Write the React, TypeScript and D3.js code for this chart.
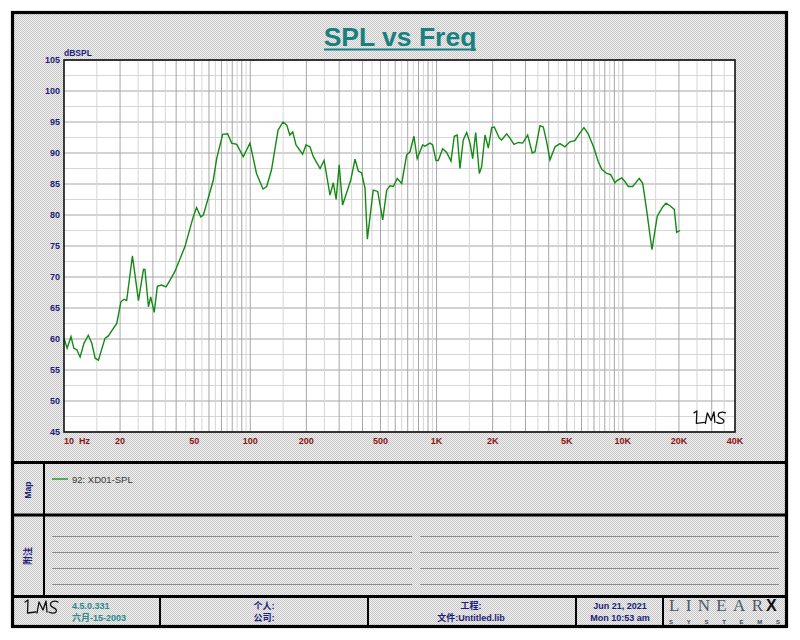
import React from "react";
import * as d3 from "d3";

const freqHz = [
  10, 10.4, 10.9, 11.3, 11.7, 12.2, 12.8, 13.5, 14.1, 14.7, 15.3, 16.6, 17.3, 18.3, 19.2,
  20.2, 21.0, 21.7, 23.3, 25.1, 26.7, 27.2, 28.4, 29.2, 30.5, 31.7, 33.4, 35.3, 37.1, 39.4,
  44.6, 49.4, 51.5, 54.2, 56.0, 63.3, 66.0, 71.1, 75.6, 79.4, 84.6, 91.7, 99.6,
  108, 117, 122.5, 130, 141, 150, 157, 163, 169, 176, 191, 199, 209, 218, 237, 249,
  268, 279, 289, 300, 313, 346, 365, 380, 396, 413, 425, 457, 483, 514, 540, 562, 586,
  615, 650, 691, 720, 756, 787, 842, 866, 922, 953, 993, 1021, 1078, 1133, 1195, 1245,
  1291, 1335, 1391, 1451, 1512, 1563, 1622, 1696, 1746, 1820, 1896, 1977, 2041, 2172,
  2235, 2378, 2478, 2603, 2746, 2899, 3083, 3264, 3376, 3590, 3741, 3900, 4064, 4324,
  4596, 4887, 5196, 5525, 5874, 6182, 6518, 6998, 7383, 7697, 8185, 8601, 9075, 9268,
  9857, 10260, 10700, 11290, 12250, 12780, 13420, 14330, 15300, 16360, 17040, 17900,
  18880, 19450, 20270,
];
const splDb = [
  60.1, 58.5, 60.4, 58.5, 58.3, 57.1, 59.3, 60.6, 59.3, 56.9, 56.6, 60.1, 60.5, 61.6, 62.5,
  66.0, 66.4, 66.2, 73.4, 66.2, 71.2, 71.2, 65.2, 66.8, 64.3, 68.5, 68.7, 68.4, 69.5, 70.9,
  74.9, 79.7, 81.2, 79.7, 80.0, 85.6, 89.1, 93.0, 93.1, 91.6, 91.4, 89.4, 91.6,
  86.7, 84.2, 84.6, 87.3, 93.7, 95.0, 94.5, 92.9, 93.4, 91.3, 89.8, 91.3, 91.0, 89.4, 87.5, 88.8,
  83.2, 85.2, 82.5, 88.1, 81.6, 85.6, 89.0, 87.1, 86.8, 84.3, 76.1, 84.0, 83.8, 79.2, 84.0, 84.7, 84.6,
  85.9, 85.1, 89.7, 90.2, 92.7, 89.1, 91.3, 91.1, 91.6, 91.3, 88.8, 88.8, 90.7, 90.1, 88.7, 92.7,
  92.9, 87.5, 92.1, 93.3, 91.6, 89.1, 93.3, 86.7, 87.8, 92.9, 90.8, 94.1, 94.2, 92.4,
  92.1, 93.1, 92.4, 91.4, 91.7, 91.6, 92.9, 90.0, 90.2, 94.4, 94.2, 91.8, 88.9, 91.0,
  91.5, 91.0, 91.8, 92.0, 93.2, 94.1, 93.1, 90.8, 88.6, 87.4, 86.7, 86.5, 85.2, 85.5,
  86.0, 85.4, 84.6, 84.6, 85.9, 85.1, 80.8, 74.4, 79.8, 81.3, 81.9, 81.5,
  80.9, 77.2, 77.5,
];

const xTickValues = [10, 20, 50, 100, 200, 500, 1000, 2000, 5000, 10000, 20000, 40000];
const xTickLabels = ["10  Hz", "20", "50", "100", "200", "500", "1K", "2K", "5K", "10K", "20K", "40K"];
const yTickValues = [45, 50, 55, 60, 65, 70, 75, 80, 85, 90, 95, 100, 105];

const seriesName = "92: XD01-SPL";
const footerVersion = ["4.5.0.331", "六月-15-2003"];
const footerUser = ["个人:", "公司:"];
const footerProject = ["工程:", "文件:Untitled.lib"];
const footerDate = ["Jun 21, 2021", "Mon 10:53 am"];

const ARIAL = "Arial, 'Liberation Sans', sans-serif";
const CJK = "Arial, 'Liberation Sans', 'Noto Sans CJK SC', sans-serif";
const NAVY = "#1d1d7a";
const TEAL = "#188080";

const LmsLogo = ({ x, y, s = 1 }: { x: number; y: number; s?: number }) => (
  <g transform={`translate(${x},${y}) scale(${s})`} fill="none" stroke="#111" strokeWidth={1.3 / s} strokeLinecap="round" strokeLinejoin="round">
    <path d="M0,3 L3,1 L2.5,14 L11,13" />
    <path d="M12,14 L14,3 L18,11 L21,2 L22,13" />
    <path d="M33,3 C29,1 24,3 26,7 C28,9 33,10 31,13 C29,15 26,14 24,13" />
  </g>
);

export default function App() {
  const x = d3.scaleLog().domain([10, 40000]).range([64, 735]);
  const y = d3.scaleLinear().domain([45, 105]).range([432, 60]);

  const majorX: number[] = [];
  const minorX: number[] = [];
  for (const d of [10, 100, 1000, 10000]) {
    for (let m = 1; m < 10; m += 0.5) {
      const v = d * m;
      if (v <= 10 || v >= 40000) continue;
      (Number.isInteger(m) ? majorX : minorX).push(v);
    }
  }
  const minorY = d3.range(47.5, 105, 5);

  const line = d3
    .line<number>()
    .x((_, i) => x(freqHz[i]))
    .y((d) => y(d));

  const noteRows = [536, 552, 568, 584];

  return (
    <svg width={800} height={640} style={{ position: "absolute", left: 0, top: 0 }}>
      <defs>
        <pattern id="dither" width={2} height={2} patternUnits="userSpaceOnUse">
          <rect width={2} height={2} fill="#f0f0f0" />
          <rect width={1} height={1} fill="#c8c8c8" />
          <rect x={1} y={1} width={1} height={1} fill="#c8c8c8" />
        </pattern>
      </defs>
      <rect width={800} height={640} fill="#ffffff" />
      <rect x={11} y={11} width={777} height={617} fill="url(#dither)" />

      {/* title */}
      <text x={400} y={45.5} textAnchor="middle" fontFamily={ARIAL} fontWeight="bold" fontSize={26.5} fill={TEAL}>
        SPL vs Freq
      </text>
      <line x1={324} x2={476} y1={49.5} y2={49.5} stroke={TEAL} strokeWidth={2} />

      {/* plot */}
      <rect x={64} y={60} width={671} height={372} fill="#ffffff" />
      {minorY.map((v) => (
        <line key={"hy" + v} x1={64} x2={735} y1={y(v)} y2={y(v)} stroke="#d6d6d6" />
      ))}
      {yTickValues.map((v) => (
        <line key={"gy" + v} x1={64} x2={735} y1={y(v)} y2={y(v)} stroke="#a6a6a6" />
      ))}
      {minorX.map((v) => (
        <line key={"hx" + v} x1={x(v)} x2={x(v)} y1={60} y2={432} stroke="#d6d6d6" />
      ))}
      {majorX.map((v) => (
        <line key={"gx" + v} x1={x(v)} x2={x(v)} y1={60} y2={432} stroke="#a6a6a6" />
      ))}
      <path d={line(splDb) ?? ""} fill="none" stroke="#138a13" strokeWidth={1.4} />
      <rect x={64} y={60} width={671} height={372} fill="none" stroke="#111" strokeWidth={1.6} />
      <LmsLogo x={694} y={410} s={0.95} />

      {/* axes labels */}
      <text x={64} y={55.5} fontFamily={ARIAL} fontWeight="bold" fontSize={8.5} fill={NAVY}>
        dBSPL
      </text>
      {yTickValues.map((v) => (
        <text key={"yl" + v} x={60} y={y(v) + 3} textAnchor="end" fontFamily={ARIAL} fontWeight="bold" fontSize={9} fill={NAVY}>
          {v}
        </text>
      ))}
      {xTickValues.map((v, i) => (
        <text
          key={"xl" + v}
          x={x(v)}
          y={444}
          textAnchor={i === 0 ? "start" : "middle"}
          fontFamily={ARIAL}
          fontWeight="bold"
          fontSize={9}
          fill="#8a1515"
          style={{ whiteSpace: "pre" }}
        >
          {xTickLabels[i]}
        </text>
      ))}

      {/* map panel */}
      <line x1={52} x2={68} y1={479} y2={479} stroke="#138a13" strokeWidth={1.3} />
      <text x={72} y={482.5} fontFamily={ARIAL} fontSize={9.5} fill="#3a3a3a">
        {seriesName}
      </text>
      <text transform="translate(31,490) rotate(-90)" textAnchor="middle" fontFamily={ARIAL} fontWeight="bold" fontSize={8.5} fill={NAVY}>
        Map
      </text>

      {/* notes panel */}
      {noteRows.map((r) => (
        <g key={"n" + r}>
          <line x1={52} x2={412} y1={r + 0.5} y2={r + 0.5} stroke="#8a8a8a" />
          <line x1={420} x2={779} y1={r + 0.5} y2={r + 0.5} stroke="#8a8a8a" />
        </g>
      ))}
      <text transform="translate(31,556) rotate(-90)" textAnchor="middle" fontFamily={CJK} fontWeight="bold" fontSize={9} fill={NAVY}>
        附注
      </text>

      {/* footer */}
      <LmsLogo x={25} y={599} s={1.0} />
      {footerVersion.map((t, i) => (
        <text key={"fv" + i} x={72} y={609 + i * 12} fontFamily={CJK} fontWeight="bold" fontSize={9} fill="#2a8a8a">
          {t}
        </text>
      ))}
      {footerUser.map((t, i) => (
        <text key={"fu" + i} x={264} y={609 + i * 12} textAnchor="middle" fontFamily={CJK} fontWeight="bold" fontSize={9} fill={NAVY}>
          {t}
        </text>
      ))}
      {footerProject.map((t, i) => (
        <text key={"fp" + i} x={471} y={609 + i * 12} textAnchor="middle" fontFamily={CJK} fontWeight="bold" fontSize={9} fill={NAVY}>
          {t}
        </text>
      ))}
      {footerDate.map((t, i) => (
        <text key={"fd" + i} x={620} y={609 + i * 12} textAnchor="middle" fontFamily={ARIAL} fontWeight="bold" fontSize={9} fill={NAVY}>
          {t}
        </text>
      ))}
      <text x={669} y={610.5} fontFamily="'Liberation Serif', 'DejaVu Serif', serif" fontSize={17} fill="#4d5866" textLength={94} lengthAdjust="spacing">
        LINEAR
      </text>
      <text x={766} y={610.5} fontFamily={ARIAL} fontWeight="900" fontSize={16} fill="#111">
        X
      </text>
      <text x={669} y={623.5} fontFamily={ARIAL} fontWeight="bold" fontSize={6} fill="#3d4856" textLength={111} lengthAdjust="spacing">
        SYSTEMS
      </text>

      {/* frame */}
      <rect x={12.5} y={12.5} width={774} height={614} fill="none" stroke="#000" strokeWidth={3.2} />
      <line x1={11} x2={788} y1={462.5} y2={462.5} stroke="#000" strokeWidth={3} />
      <line x1={11} x2={788} y1={515} y2={515} stroke="#000" strokeWidth={3} />
      <line x1={11} x2={788} y1={596.5} y2={596.5} stroke="#000" strokeWidth={3} />
      <line x1={44} x2={44} y1={462} y2={596} stroke="#000" strokeWidth={2} />
      <line x1={160} x2={160} y1={596} y2={627} stroke="#000" strokeWidth={2} />
      <line x1={368} x2={368} y1={596} y2={627} stroke="#000" strokeWidth={2} />
      <line x1={576} x2={576} y1={596} y2={627} stroke="#000" strokeWidth={2} />
      <line x1={663} x2={663} y1={596} y2={627} stroke="#000" strokeWidth={2} />
    </svg>
  );
}
